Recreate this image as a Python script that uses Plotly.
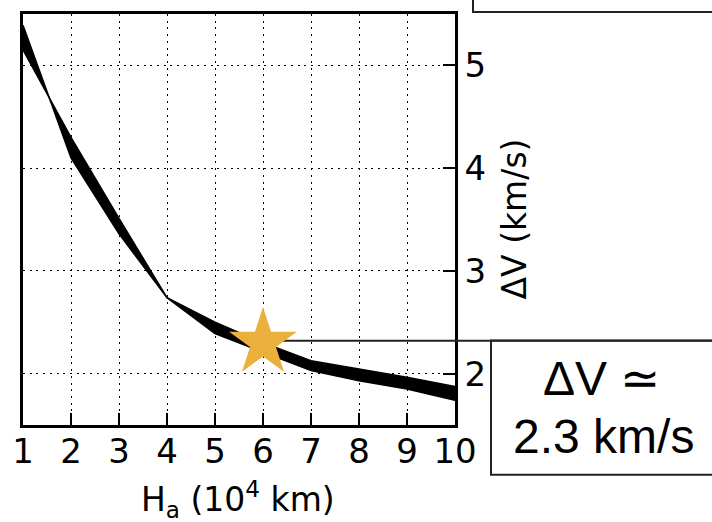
import plotly.graph_objects as go

# Apogee altitude H_a (10^4 km) and the two bounding delta-V curves (km/s)
h_apogee = [1, 2, 3, 4, 5, 6, 7, 8, 9, 10]
dv_curve_a = [5.39, 4.10, 3.36, 2.74, 2.39, 2.21, 2.03, 1.93, 1.85, 1.74]
dv_curve_b = [5.15, 4.30, 3.51, 2.74, 2.50, 2.30, 2.125, 2.045, 1.965, 1.875]

# Selected design point
star_h = [6]
star_dv = [2.3]
marker_level = 2.32

x_ticks = [1, 2, 3, 4, 5, 6, 7, 8, 9, 10]
y_ticks = [2, 3, 4, 5]

TICK_FONT = dict(family="DejaVu Sans", size=34, color="black")
TITLE_FONT = dict(family="DejaVu Sans", size=33, color="black")
BOX_FONT = dict(family="Liberation Sans", size=48, color="black")

fig = go.Figure()

# Shaded band between the two delta-V curves
fig.add_trace(go.Scatter(
    x=h_apogee, y=dv_curve_a, mode="lines",
    line=dict(color="black", width=1.5), showlegend=False, hoverinfo="skip",
))
fig.add_trace(go.Scatter(
    x=h_apogee, y=dv_curve_b, mode="lines", fill="tonexty",
    fillcolor="black", line=dict(color="black", width=1.5),
    showlegend=False, hoverinfo="skip",
))

# Design point star
fig.add_trace(go.Scatter(
    x=star_h, y=star_dv, mode="markers",
    marker=dict(symbol="star", size=51, color="#ebb03b", line=dict(width=0)),
    showlegend=False, cliponaxis=False,
))

axis_common = dict(
    showline=True, linecolor="black", linewidth=2.5,
    ticks="inside", tickcolor="black", tickwidth=1.5,
    showgrid=True, gridcolor="black", gridwidth=1.2, griddash="2px,4.7px",
    zeroline=False, tickfont=TICK_FONT,
)

fig.update_layout(
    width=712, height=522,
    margin=dict(l=23, r=257, t=11, b=97),
    plot_bgcolor="white", paper_bgcolor="white",
    xaxis=dict(
        range=[1, 10], tickvals=x_ticks, ticklen=12, mirror=True,
        ticklabelstandoff=-6, **axis_common,
    ),
    xaxis2=dict(
        range=[1, 10], tickvals=x_ticks, overlaying="x", side="top",
        showticklabels=False, ticks="inside", ticklen=8, tickwidth=1.5,
        tickcolor="black", showgrid=False, showline=False, zeroline=False,
    ),
    yaxis=dict(
        range=[1.5, 5.5], tickvals=y_ticks, side="right", ticklen=12,
        mirror=True, **axis_common,
    ),
)

# Horizontal guide from the design point to the right edge of the plot...
fig.add_shape(
    type="line", xref="x", yref="y", x0=star_h[0], x1=x_ticks[-1],
    y0=marker_level, y1=marker_level,
    line=dict(color="#222222", width=2), layer="below",
)
# ...and on across the margin to the result box
fig.add_shape(
    type="line", xref="paper", yref="y", x0=1.0, x1=1.65,
    y0=marker_level, y1=marker_level,
    line=dict(color="#222222", width=2),
)

# Result box and the box above the plot
fig.add_shape(type="rect", xref="paper", yref="paper",
              x0=1.0833, x1=1.65, y0=-0.1208, y1=0.2053,
              line=dict(color="#222222", width=2))
fig.add_shape(type="rect", xref="paper", yref="paper",
              x0=1.0417, x1=1.65, y0=1.0048, y1=1.2,
              line=dict(color="#222222", width=2))

fig.add_annotation(text="ΔV ≃", xref="paper", yref="paper",
                   x=1.340, y=0.113, xanchor="center", yanchor="middle",
                   showarrow=False, font=BOX_FONT)
fig.add_annotation(text=f"{star_dv[0]} km/s", xref="paper", yref="paper",
                   x=1.3426, y=-0.027, xanchor="center", yanchor="middle",
                   showarrow=False, font=BOX_FONT)

# Axis titles
fig.add_annotation(text="H<sub>a</sub> (10<sup>4</sup> km)",
                   xref="paper", yref="paper", x=0.497, y=-0.182,
                   xanchor="center", yanchor="middle", showarrow=False,
                   font=TITLE_FONT)
fig.add_annotation(text="ΔV (km/s)", xref="paper", yref="paper",
                   x=1.1366, y=0.5, xanchor="center", yanchor="middle",
                   textangle=-90, showarrow=False, font=TITLE_FONT)

fig.write_html("out.html")
